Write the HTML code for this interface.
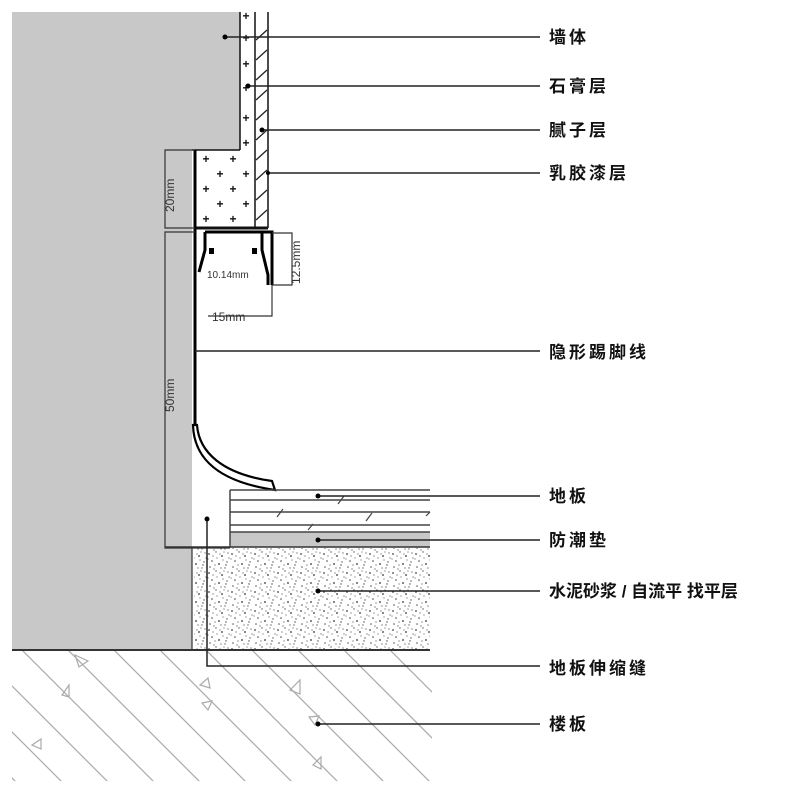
<!DOCTYPE html>
<html><head><meta charset="utf-8"><style>
html,body{margin:0;padding:0;background:#fff;}
svg{display:block;}
text{font-family:"Liberation Sans","Noto Sans CJK SC",sans-serif;}
</style></head><body>
<svg width="794" height="789" viewBox="0 0 794 789" xmlns="http://www.w3.org/2000/svg">
<defs>
<pattern id="sp" width="23" height="19" patternUnits="userSpaceOnUse">
<circle cx="2" cy="3" r="0.9" fill="#444"/><circle cx="9" cy="1" r="0.7" fill="#555"/>
<circle cx="15" cy="5" r="0.9" fill="#333"/><circle cx="20" cy="11" r="0.7" fill="#555"/>
<circle cx="5" cy="10" r="0.8" fill="#444"/><circle cx="12" cy="13" r="0.9" fill="#333"/>
<circle cx="18" cy="17" r="0.7" fill="#666"/><circle cx="3" cy="16" r="0.8" fill="#555"/>
<circle cx="10" cy="7" r="0.6" fill="#666"/><circle cx="21" cy="2" r="0.6" fill="#444"/>
<circle cx="7" cy="18" r="0.6" fill="#444"/><circle cx="16" cy="9" r="0.6" fill="#666"/>
<circle cx="13" cy="3" r="0.6" fill="#555"/><circle cx="1" cy="8" r="0.6" fill="#666"/>
<circle cx="19" cy="14" r="0.7" fill="#444"/><circle cx="8" cy="14" r="0.6" fill="#555"/>
<circle cx="14" cy="17" r="0.6" fill="#444"/><circle cx="22" cy="7" r="0.6" fill="#555"/>
<circle cx="6" cy="5" r="0.6" fill="#555"/><circle cx="17" cy="1" r="0.6" fill="#666"/>
</pattern>
<clipPath id="slab"><rect x="12" y="651" width="420" height="130"/></clipPath>
</defs>
<path d="M12 12 H240 V150 H192 V650 H12 Z" fill="#c8c8c8"/>
<rect x="240" y="12" width="15" height="216" fill="#fff"/>
<rect x="195" y="150" width="60" height="78" fill="#fff"/>
<g stroke="#111" stroke-width="1.5" fill="none">
<line x1="240" y1="12" x2="240" y2="150"/>
<line x1="192" y1="150" x2="240" y2="150"/>
<line x1="255" y1="12" x2="255" y2="228"/>
<line x1="268" y1="12" x2="268" y2="228"/>
<line x1="195" y1="228" x2="268" y2="228" stroke-width="3"/>
</g>
<g stroke="#222" stroke-width="1.3">
<path d="M256 40 l11 -10 M256 60 l11 -10 M256 80 l11 -10 M256 100 l11 -10 M256 120 l11 -10 M256 140 l11 -10 M256 160 l11 -10 M256 180 l11 -10 M256 200 l11 -10 M256 220 l11 -10"/>
</g>
<g font-size="12" fill="#111" text-anchor="middle" font-weight="bold">
<text x="246" y="20">+</text><text x="246" y="42">+</text><text x="246" y="68">+</text><text x="246" y="92">+</text><text x="246" y="122">+</text><text x="246" y="147">+</text>
<text x="206" y="163">+</text><text x="233" y="163">+</text><text x="220" y="178">+</text><text x="246" y="178">+</text>
<text x="206" y="193">+</text><text x="233" y="193">+</text><text x="220" y="208">+</text><text x="246" y="208">+</text>
<text x="206" y="223">+</text><text x="233" y="223">+</text>
</g>
<g stroke="#000" stroke-width="3" fill="none">
<line x1="195" y1="150" x2="195" y2="425"/>
<path d="M205 232 H262 V250 l6 25 V285"/>
<path d="M205 232 V250 L199 272"/>
<path d="M262 232 L272 232 V285"/>
</g>
<path d="M197 425 C199 452 222 474 272 481 L275 490 C220 482 194 460 193 425 Z" fill="#fff" stroke="#000" stroke-width="2.2"/>
<rect x="209" y="248" width="5" height="6" fill="#000"/><rect x="252" y="248" width="5" height="6" fill="#000"/>
<g stroke="#333" stroke-width="1.2" fill="none">
<path d="M195 150 H165 V228 H195"/>
<path d="M195 232 H165 V548 H230"/>
<path d="M272 233 H292 V285 H272"/>
<path d="M208 316 H272 V285"/>
</g>
<g font-size="12" fill="#333">
<text transform="translate(174 212) rotate(-90)">20mm</text>
<text transform="translate(174 412) rotate(-90)">50mm</text>
<text transform="translate(300 284) rotate(-90)">12.5mm</text>
<text x="207" y="278" font-size="10">10.14mm</text>
<text x="212" y="321" font-size="12">15mm</text>
</g>
<rect x="230" y="532" width="200" height="15" fill="#c8c8c8"/>
<g stroke="#444" stroke-width="1.5">
<line x1="230" y1="490" x2="430" y2="490"/><line x1="230" y1="500" x2="430" y2="500"/>
<line x1="230" y1="512" x2="430" y2="512"/><line x1="230" y1="525" x2="430" y2="525"/>
<line x1="230" y1="532" x2="430" y2="532"/>
<line x1="230" y1="490" x2="230" y2="547"/>
<path d="M338 504 l6 -8 M277 517 l6 -8 M366 521 l6 -8 M308 530 l5 -6 M426 516 l4 -4" stroke-width="1.2"/>
</g>
<line x1="165" y1="547" x2="430" y2="547" stroke="#333" stroke-width="1.5"/>
<rect x="194" y="548" width="236" height="101" fill="url(#sp)"/>
<line x1="192" y1="548" x2="192" y2="650" stroke="#333" stroke-width="1.2"/>
<line x1="12" y1="650" x2="430" y2="650" stroke="#333" stroke-width="2"/>
<g clip-path="url(#slab)" stroke="#aaa" stroke-width="1.2">
<path d="M-90 630 l160 160 M-44 630 l160 160 M2 630 l160 160 M48 630 l160 160 M94 630 l160 160 M140 630 l160 160 M186 630 l160 160 M232 630 l160 160 M278 630 l160 160 M324 630 l160 160 M370 630 l160 160 M416 630 l160 160 M-136 630 l160 160"/>
</g>
<g stroke="#aaa" stroke-width="1.2" fill="none">
<path d="M75 655 l13 6 l-9 6 Z M62 695 l7 -10 l0 12 Z M200 685 l8 -7 l2 10 Z M208 710 l-6 -7 l10 -2 Z M290 690 l10 -10 l0 14 Z M315 725 l-6 -8 l10 -1 Z M32 745 l9 -6 l0 10 Z M313 765 l8 -8 l0 12 Z"/>
</g>
<path d="M207 519 V666 H540" stroke="#222" stroke-width="1.5" fill="none"/>
<circle cx="207" cy="519" r="2.5" fill="#000"/>
<g stroke="#222" stroke-width="1.5">
<line x1="225" y1="37" x2="540" y2="37"/>
<line x1="248" y1="86" x2="540" y2="86"/>
<line x1="262" y1="130" x2="540" y2="130"/>
<line x1="268" y1="173" x2="540" y2="173"/>
<line x1="195" y1="351" x2="540" y2="351"/>
<line x1="318" y1="496" x2="540" y2="496"/>
<line x1="318" y1="540" x2="540" y2="540"/>
<line x1="318" y1="591" x2="540" y2="591"/>
<line x1="318" y1="724" x2="540" y2="724"/>
</g>
<g fill="#000">
<circle cx="225" cy="37" r="2.5"/><circle cx="248" cy="86" r="2.5"/><circle cx="262" cy="130" r="2.5"/><circle cx="268" cy="173" r="2"/>
<circle cx="318" cy="496" r="2.5"/><circle cx="318" cy="540" r="2.5"/><circle cx="318" cy="591" r="2.5"/><circle cx="318" cy="724" r="2.5"/>
</g>
<g font-size="17" font-weight="bold" fill="#111">
<text x="549" y="43" letter-spacing="3">墙体</text>
<text x="549" y="92" letter-spacing="3">石膏层</text>
<text x="549" y="136" letter-spacing="3">腻子层</text>
<text x="549" y="179" letter-spacing="3">乳胶漆层</text>
<text x="549" y="358" letter-spacing="3">隐形踢脚线</text>
<text x="549" y="502" letter-spacing="3">地板</text>
<text x="549" y="546" letter-spacing="3">防潮垫</text>
<text x="549" y="597">水泥砂浆 / 自流平 找平层</text>
<text x="549" y="674" letter-spacing="3">地板伸缩缝</text>
<text x="549" y="730" letter-spacing="3">楼板</text>
</g>
</svg>
</body></html>
